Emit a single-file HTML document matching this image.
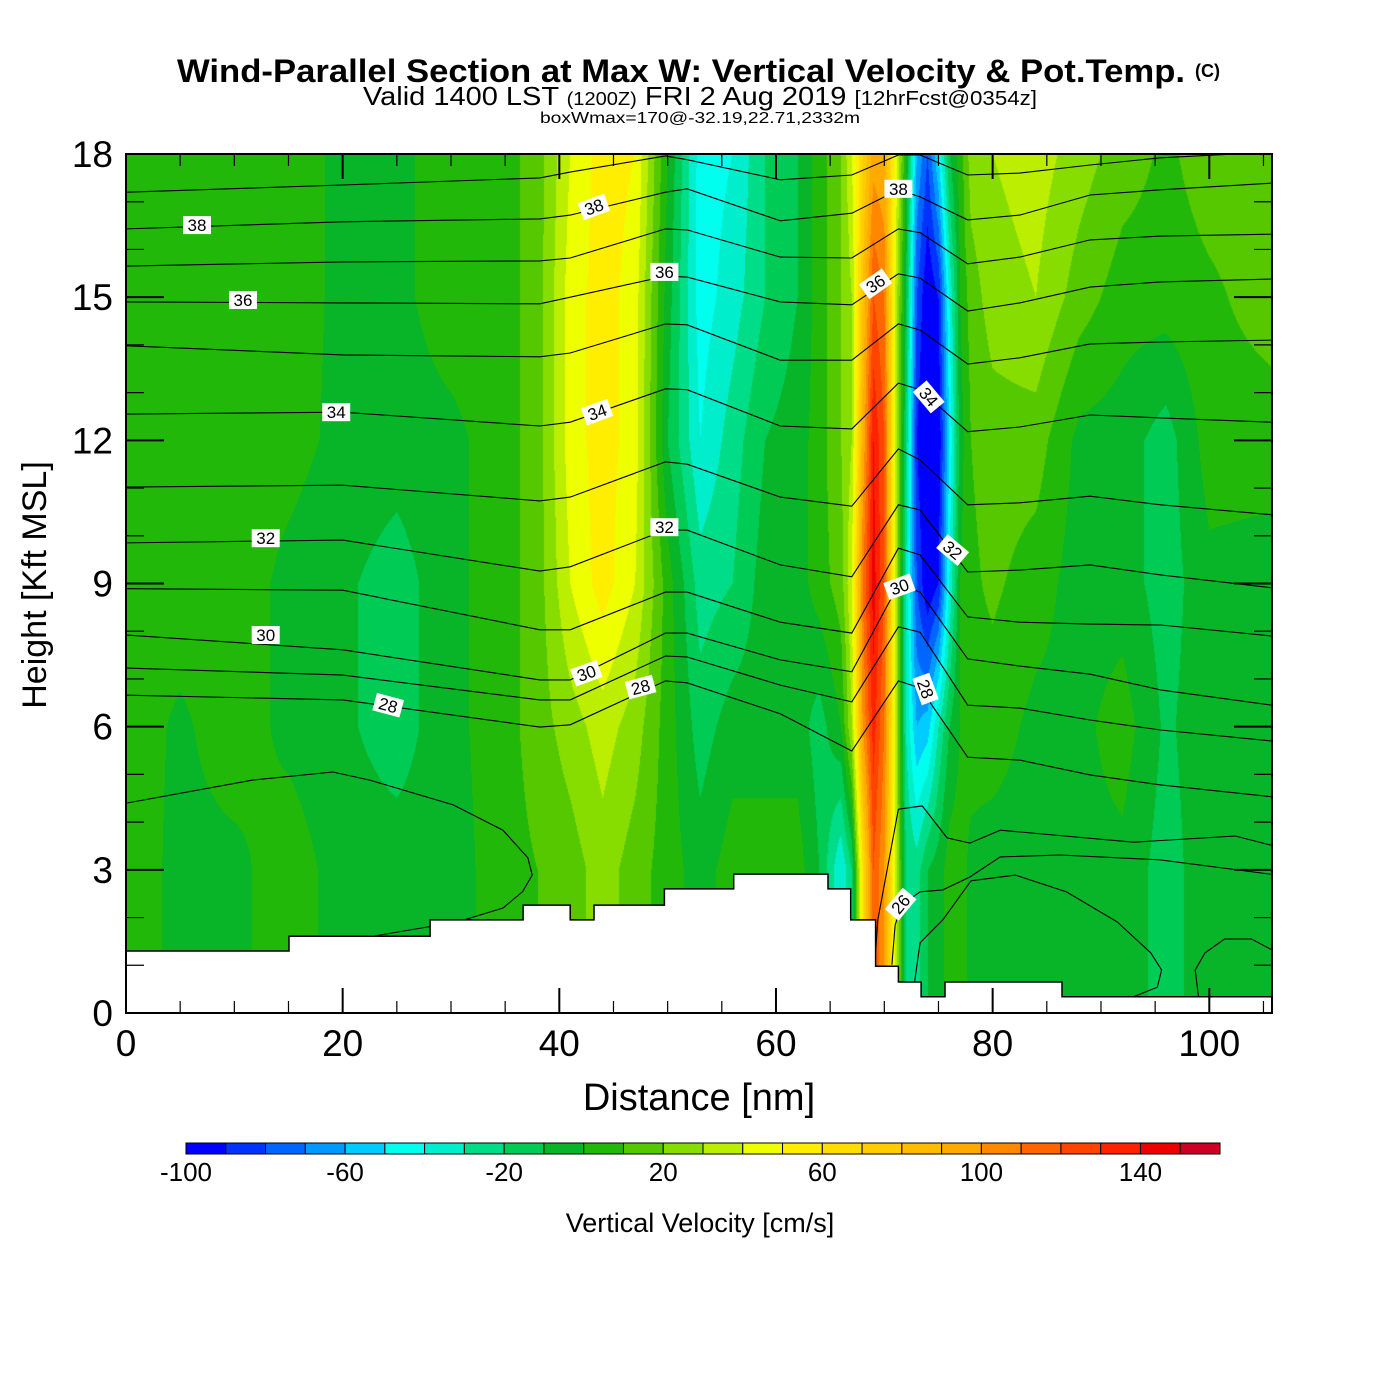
<!DOCTYPE html>
<html><head><meta charset="utf-8">
<style>
html,body{margin:0;padding:0;background:#fff;}
#wrap{position:relative;width:1400px;height:1400px;overflow:hidden;background:#fff;}
#field{position:absolute;left:126px;top:154px;}
#over{position:absolute;left:0;top:0;}
text{font-family:"Liberation Sans",sans-serif;}
</style></head>
<body>
<div id="wrap">
<canvas id="field" width="1146" height="859"></canvas>
<svg id="over" width="1400" height="1400" xmlns="http://www.w3.org/2000/svg">
  <defs><clipPath id="pc"><rect x="126" y="154" width="1146" height="859"/></clipPath></defs>
  <text x="177" y="82" font-size="32" font-weight="bold" textLength="1008" lengthAdjust="spacingAndGlyphs">Wind-Parallel Section at Max W: Vertical Velocity &amp; Pot.Temp.</text>
  <text x="1195" y="77" font-size="18" font-weight="bold">(C)</text>
  <text x="363" y="105" font-size="26" textLength="674" lengthAdjust="spacingAndGlyphs">Valid 1400 LST <tspan font-size="18">(1200Z)</tspan> FRI 2 Aug 2019 <tspan font-size="20">[12hrFcst@0354z]</tspan></text>
  <text x="540" y="123" font-size="16" textLength="320" lengthAdjust="spacingAndGlyphs">boxWmax=170@-32.19,22.71,2332m</text>
  <g id="contours" clip-path="url(#pc)"></g>
  <g id="terrain"></g>
  <g id="labels"></g>
  <g id="axes"></g>
  <text x="699" y="1110" font-size="38" text-anchor="middle">Distance [nm]</text>
  <text transform="translate(46,585) rotate(-90)" font-size="34" text-anchor="middle">Height [Kft MSL]</text>
  <g id="cbar"></g>
  <text x="700" y="1232" font-size="27" text-anchor="middle">Vertical Velocity [cm/s]</text>
</svg>
</div>
<script>
// ---------- data ----------
const colorLevels = [-100,-90,-80,-70,-60,-50,-40,-30,-20,-10,0,10,20,30,40,50,60,70,80,90,100,110,120,130,140,150,160];
const binColors = ["#0000ff","#0033ff","#0066ff","#0099ff","#00ccff","#00ffee","#00eecc","#00dd88","#00cc55","#08b428","#22b80a","#55c800","#88dd00","#bbee00","#eeff00","#ffee00","#ffdd00","#ffcc00","#ffbb00","#ffaa00","#ff8800","#ff6600","#ff4400","#ff2200","#ee0000","#cc0022"];
const cbarTicks = [-100,-60,-20,20,60,100,140];
const xTicks = [0,20,40,60,80,100];
const yTicks = [0,3,6,9,12,15,18];

const wX = [0,5,10,15,20,25,30,35,38,41,44,47,50,53,56,59,62,64,66,67,68,69,70,71,72,73,74,75,76,77,78,80,84,88,92,96,100,106];
const wH = [0,3,6,9,12,15,18];
const w0  = [6,-3,-3,6,-5,-5,-5,6,10,15,25,15,5,-5,5,5,5,-10,-40,-20,60,120,100,40,-20,-25,-10,-5,5,5,-3,-5,-5,-3,-3,-15,-3,-8];
const w3  = [6,-3,-3,6,-5,-5,-5,6,10,15,25,15,5,-5,5,5,5,-10,-40,-20,60,120,100,40,-20,-25,-10,-5,5,5,-3,-5,-5,-3,-3,-15,-3,-8];
const w6  = [6,-2,6,-3,-8,-15,-3,6,15,25,35,25,5,-15,-5,-5,-5,-15,0,30,100,135,110,40,-30,-60,-55,-30,-10,0,5,5,-3,-3,5,-12,-3,-5];
const w9  = [6,6,6,-3,-8,-15,-3,6,15,40,55,40,5,-25,-20,-5,-5,5,15,40,110,145,120,40,-30,-80,-100,-90,-40,0,8,12,5,-5,-5,-15,-3,-5];
const w12 = [6,6,6,4,-3,-5,-3,6,15,45,55,45,-10,-40,-25,-10,-5,5,20,30,90,140,120,40,-20,-90,-105,-100,-50,-5,10,15,15,-3,-5,-15,5,5];
const w15 = [6,6,6,6,-3,-3,6,6,15,45,55,45,-5,-45,-35,-20,-10,5,20,30,80,120,110,40,-10,-80,-100,-90,-40,0,15,25,30,15,5,5,8,15];
const w18 = [6,6,6,6,-3,-3,6,6,15,40,55,50,0,-45,-40,-20,-10,5,20,40,70,95,90,50,0,-60,-80,-50,-10,5,25,30,35,25,15,8,15,15];

const thetaX = [0,20,38.2,41,49.8,51.8,60.4,67,71.3,73.3,77.7,82.5,89,95.5,105.8];
const theta39 = [17.20,17.35,17.50,17.62,17.96,17.88,17.46,17.56,17.98,17.98,17.56,17.60,17.77,17.92,18.04];
const theta38 = [16.43,16.58,16.64,16.72,17.20,17.27,16.60,16.76,17.25,17.10,16.62,16.72,17.14,17.25,17.39];
const theta37 = [15.65,15.74,15.76,15.82,16.43,16.41,15.84,15.82,16.43,16.35,15.70,15.84,16.20,16.28,16.32];
const theta36 = [14.90,14.88,14.86,15.00,15.44,15.42,14.90,14.84,15.49,15.40,14.71,14.88,15.21,15.32,15.38];
const theta35 = [13.98,13.79,13.75,13.83,14.44,14.42,13.68,13.68,14.44,14.31,13.60,13.73,14.02,14.06,14.10];
const theta34 = [12.55,12.59,12.30,12.38,13.08,13.06,12.30,12.24,13.20,13.06,12.18,12.28,12.53,12.47,12.38];
const theta33 = [11.02,11.06,10.73,10.81,11.55,11.50,10.81,10.62,11.82,11.59,10.65,10.69,10.83,10.65,10.44];
const theta32 = [9.85,9.91,9.26,9.35,10.12,10.12,9.39,9.14,10.65,10.54,9.24,9.28,9.39,9.18,8.91];
const theta31 = [8.89,8.86,8.03,8.03,8.82,8.82,8.19,7.96,9.74,9.60,8.30,8.19,8.15,8.13,7.90];
const theta30 = [7.92,7.61,6.98,6.98,7.96,7.96,7.40,7.15,8.97,8.82,7.42,7.27,7.10,6.77,6.45];
const theta29 = [7.23,7.08,6.56,6.56,7.48,7.46,6.87,6.52,8.09,7.98,6.45,6.39,6.14,5.93,5.70];
const theta28 = [6.66,6.56,5.99,6.04,6.96,6.92,6.27,5.49,6.96,6.81,5.36,5.30,4.99,4.78,4.53];

const loopLeftX = [0.1,11.7,19.1,22.5,30.2,34.8,37.1,37.5,36.6,34.8,30.6,21.3,16.1];
const loopLeftH = [4.40,4.88,5.05,4.88,4.36,3.83,3.25,2.89,2.54,2.20,1.91,1.55,1.45];
const lowR1X = [69.1,69.4,71.3,73.5,75.8,77.9,80.7,93.0,102.4,106.3];
const lowR1H = [0.98,1.95,4.27,4.34,3.67,3.56,3.83,3.58,3.71,3.48];
const lowR2X = [70.7,71.0,71.6,73.3,75.4,77.9,80.7,86.2,95.4,106.3];
const lowR2H = [1.01,1.84,2.26,2.54,2.58,2.85,3.27,3.31,3.21,2.89];
const lowR3X = [72.8,73.3,75.4,78.0,82.1,86.8,91.5,94.6,95.6,95.2,93.0];
const lowR3H = [0.65,1.47,1.95,2.77,2.89,2.54,1.91,1.26,0.90,0.54,0.34];
const lowR4X = [99.0,98.7,99.6,101.4,103.9,106.3];
const lowR4H = [0.34,0.90,1.26,1.55,1.55,1.26];

const terrainX = [0,15.05,28.07,36.66,41.0,43.2,49.7,56.1,64.8,66.9,69.2,71.3,73.4,75.6,86.4,105.8];
const terrainH = [1.3,1.61,1.95,2.26,1.95,2.26,2.6,2.91,2.6,1.95,0.98,0.65,0.34,0.65,0.34];

const labelText = ["38","36","34","32","30","28","38","36","34","32","30","28","38","36","34","32","30","28","26"];
const labelX = [6.55,10.8,19.4,12.9,12.9,24.2,43.2,49.7,43.5,49.7,42.5,47.5,71.3,69.2,74.1,76.3,71.4,73.8,71.5];
const labelH = [16.51,14.94,12.59,9.95,7.92,6.45,16.89,15.53,12.59,10.18,7.12,6.83,17.27,15.28,12.91,9.70,8.93,6.79,2.28];
const labelRot = [0,0,0,0,0,15,-20,0,-20,0,-20,-15,0,-35,50,40,-20,70,-50];

// ---------- scales ----------
const PL=126, PT=154, PW=1146, PH=859, XMAX=PW/10.833, HMAX=18;
const sx = nm => PL + nm*(PW/XMAX);
const sy = h => PT + PH - h*(PH/HMAX);
const cbX = v => 186 + (v+100)*(1034/260);
const NS="http://www.w3.org/2000/svg";
function mk(tag, attrs, parent){const e=document.createElementNS(NS,tag);for(const k in attrs)e.setAttribute(k,attrs[k]);parent.appendChild(e);return e;}

// ---------- field ----------
const wRows=[w0,w3,w6,w9,w12,w15,w18];
const rgb=binColors.map(c=>[parseInt(c.slice(1,3),16),parseInt(c.slice(3,5),16),parseInt(c.slice(5,7),16)]);
function seg(arr,v){let i=0;while(i<arr.length-2&&v>arr[i+1])i++;return i;}
(function(){
  const cv=document.getElementById('field');const ctx=cv.getContext('2d');
  const img=ctx.createImageData(PW,PH);const d=img.data;
  for(let py=0;py<PH;py++){
    const h=HMAX-(py+0.5)*HMAX/PH;const j=seg(wH,h);const ty=(h-wH[j])/(wH[j+1]-wH[j]);
    const ra=wRows[j], rb=wRows[j+1];
    for(let px=0;px<PW;px++){
      const x=(px+0.5)*XMAX/PW;const i=seg(wX,x);const tx=Math.min(1,Math.max(0,(x-wX[i])/(wX[i+1]-wX[i])));
      const a=ra[i]+(ra[i+1]-ra[i])*tx, b=rb[i]+(rb[i+1]-rb[i])*tx;
      const v=a+(b-a)*ty;
      let k=Math.floor((v-colorLevels[0])/10);k=Math.max(0,Math.min(binColors.length-1,k));
      const o=(py*PW+px)*4;d[o]=rgb[k][0];d[o+1]=rgb[k][1];d[o+2]=rgb[k][2];d[o+3]=255;
    }
  }
  ctx.putImageData(img,0,0);
})();

// ---------- contours ----------
const cg=document.getElementById('contours');
const thetaLines=[theta39,theta38,theta37,theta36,theta35,theta34,theta33,theta32,theta31,theta30,theta29,theta28];
thetaLines.forEach((arr,n)=>{
  const p=mk('polyline',{points:arr.map((h,i)=>sx(thetaX[i]).toFixed(1)+','+sy(h).toFixed(1)).join(' '),fill:'none',stroke:'#000','stroke-width':1.1},cg);
  
  
});
[[loopLeftX,loopLeftH,'theta-contour-27-left'],[lowR1X,lowR1H,'theta-contour-27-right'],[lowR2X,lowR2H,'theta-contour-26'],[lowR3X,lowR3H,'theta-contour-25'],[lowR4X,lowR4H,'theta-contour-25-right']].forEach(s=>{
  const p=mk('polyline',{points:s[0].map((x,i)=>sx(x).toFixed(1)+','+sy(s[1][i]).toFixed(1)).join(' '),fill:'none',stroke:'#000','stroke-width':1.1},cg);
  
  
});

// ---------- terrain ----------
(function(){
  const tg=document.getElementById('terrain');
  let pts=[];
  for(let i=0;i<terrainH.length;i++){pts.push([sx(terrainX[i]),sy(terrainH[i])]);pts.push([sx(terrainX[i+1]),sy(terrainH[i])]);}
  const poly=pts.map(p=>p[0].toFixed(1)+','+p[1].toFixed(1)).join(' ');
  const f=mk('polygon',{points:poly+' '+sx(XMAX)+','+sy(0)+' '+sx(0)+','+sy(0),fill:'#fff',stroke:'none'},tg);
  
  
  const l=mk('polyline',{points:poly,fill:'none',stroke:'#000','stroke-width':1.5},tg);
  
  
})();

// ---------- labels ----------
const lg=document.getElementById('labels');
labelText.forEach((t,i)=>{
  const g=mk('g',{transform:'translate('+sx(labelX[i]).toFixed(1)+','+sy(labelH[i]).toFixed(1)+') rotate('+labelRot[i]+')'},lg);
  
  
  mk('rect',{x:-14,y:-9,width:28,height:18,fill:'#fff'},g);
  const tx=mk('text',{x:0,y:6,'font-size':17,'text-anchor':'middle'},g);tx.textContent=t;
});

// ---------- axes ----------
const ag=document.getElementById('axes');
const fr=mk('rect',{x:PL,y:PT,width:PW,height:PH,fill:'none',stroke:'#000','stroke-width':2},ag);


for(let v=0;v<=105;v+=5){
  const L=(v%20===0)?25:12;const x=sx(v);
  mk('line',{x1:x,y1:PT+PH,x2:x,y2:PT+PH-L,stroke:'#000','stroke-width':v%20===0?2:1.2},ag);
  mk('line',{x1:x,y1:PT,x2:x,y2:PT+L,stroke:'#000','stroke-width':v%20===0?2:1.2},ag);
}
for(let v=0;v<=18;v+=1){
  const L=(v%3===0)?38:18;const y=sy(v);
  mk('line',{x1:PL,y1:y,x2:PL+L,y2:y,stroke:'#000','stroke-width':v%3===0?2:1.2},ag);
  mk('line',{x1:PL+PW,y1:y,x2:PL+PW-L,y2:y,stroke:'#000','stroke-width':v%3===0?2:1.2},ag);
}
xTicks.forEach(v=>{
  const t=mk('text',{x:sx(v),y:1056,'font-size':37,'text-anchor':'middle'},ag);t.textContent=v;
  
  
});
yTicks.forEach(v=>{
  const t=mk('text',{x:113,y:sy(v)+13,'font-size':37,'text-anchor':'end'},ag);t.textContent=v;
  
  
});

// ---------- colorbar ----------
const cb=document.getElementById('cbar');
binColors.forEach((c,i)=>{
  const r=mk('rect',{x:cbX(colorLevels[i]),y:1143,width:cbX(colorLevels[i+1])-cbX(colorLevels[i]),height:11,fill:c,stroke:'#000','stroke-width':1},cb);
  
  
});
cbarTicks.forEach(v=>{
  const t=mk('text',{x:cbX(v),y:1181,'font-size':26,'text-anchor':'middle'},cb);t.textContent=v;
  
  
});
</script>
</body></html>
